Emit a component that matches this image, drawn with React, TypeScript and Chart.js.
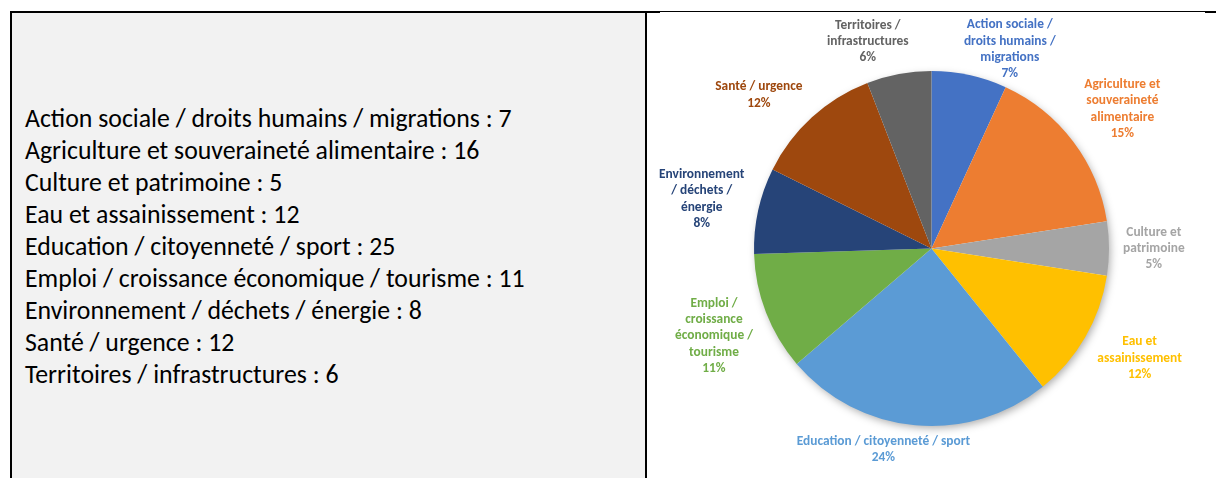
import React, { useEffect, useRef } from "react";
import { Chart, registerables } from "chart.js";

Chart.register(...registerables);

const categories = [
  "Action sociale / droits humains / migrations",
  "Agriculture et souveraineté alimentaire",
  "Culture et patrimoine",
  "Eau et assainissement",
  "Education / citoyenneté / sport",
  "Emploi / croissance économique / tourisme",
  "Environnement / déchets / énergie",
  "Santé / urgence",
  "Territoires / infrastructures",
];

const counts = [7, 16, 5, 12, 25, 11, 8, 12, 6];

const pieLabelLines = [
  ["Action sociale /", "droits humains /", "migrations"],
  ["Agriculture et", "souveraineté", "alimentaire"],
  ["Culture et", "patrimoine"],
  ["Eau et", "assainissement"],
  ["Education / citoyenneté / sport"],
  ["Emploi /", "croissance", "économique /", "tourisme"],
  ["Environnement", "/ déchets /", "énergie"],
  ["Santé / urgence"],
  ["Territoires /", "infrastructures"],
];

const percentLabels = ["7%", "15%", "5%", "12%", "24%", "11%", "8%", "12%", "6%"];

const sliceColors = [
  "#4472C4",
  "#ED7D31",
  "#A5A5A5",
  "#FFC000",
  "#5B9BD5",
  "#70AD47",
  "#264478",
  "#9E480E",
  "#636363",
];

const LABEL_FONT = "bold 13.4px Carlito, Calibri, Lato, sans-serif";
const LINE_H = 16.3;

const shadowPlugin = {
  id: "pieShadow",
  beforeDatasetsDraw(chart: any) {
    const meta = chart.getDatasetMeta(0);
    const arc = meta.data[0];
    if (!arc) return;
    const { x, y, outerRadius } = arc.getProps(["x", "y", "outerRadius"], true);
    const ctx = chart.ctx;
    ctx.save();
    ctx.shadowColor = "rgba(0,0,0,0.35)";
    ctx.shadowBlur = 9;
    ctx.shadowOffsetX = 2;
    ctx.shadowOffsetY = 3;
    ctx.fillStyle = "#ffffff";
    ctx.beginPath();
    ctx.arc(x, y, outerRadius - 1, 0, Math.PI * 2);
    ctx.fill();
    ctx.restore();
  },
};

const clamp = (v: number, a: number, b: number) => Math.max(a, Math.min(b, v));

const labelPlugin = {
  id: "outsideLabels",
  afterDatasetsDraw(chart: any) {
    const meta = chart.getDatasetMeta(0);
    const ctx = chart.ctx;
    ctx.save();
    ctx.font = LABEL_FONT;
    ctx.textAlign = "center";
    ctx.textBaseline = "middle";
    meta.data.forEach((arc: any, i: number) => {
      const { x, y, startAngle, endAngle, outerRadius } = arc.getProps(
        ["x", "y", "startAngle", "endAngle", "outerRadius"],
        true
      );
      const mid = (startAngle + endAngle) / 2;
      const ux = Math.cos(mid);
      const uy = Math.sin(mid);
      const ax = x + ux * outerRadius;
      const ay = y + uy * outerRadius;
      const lines = [...pieLabelLines[i], percentLabels[i]];
      let w = 0;
      lines.forEach((l) => {
        w = Math.max(w, ctx.measureText(l).width);
      });
      const h = lines.length * LINE_H;
      let cx = ax + clamp(1.9 * ux, -0.5, 0.5) * w + 14 * ux;
      let cy = ay + clamp(0.7 * uy, -0.5, 0.5) * h + 8 * uy;
      // keep labels inside the chart area
      cy = clamp(cy, h / 2 + 4, chart.height - h / 2 - 4);
      cx = clamp(cx, w / 2 + 4, chart.width - w / 2 - 4);
      ctx.fillStyle = sliceColors[i];
      lines.forEach((l, k) => {
        ctx.fillText(l, cx, cy - h / 2 + LINE_H / 2 + k * LINE_H);
      });
    });
    ctx.restore();
  },
};

function PieChart() {
  const ref = useRef<HTMLCanvasElement | null>(null);
  useEffect(() => {
    if (!ref.current) return;
    const chart = new Chart(ref.current, {
      type: "pie",
      data: {
        labels: categories,
        datasets: [
          {
            data: counts,
            backgroundColor: sliceColors,
            borderWidth: 0,
          },
        ],
      },
      options: {
        responsive: false,
        animation: false,
        layout: { padding: { top: 58, bottom: 52, left: 0, right: 0 } },
        plugins: {
          legend: { display: false },
          tooltip: { enabled: false },
          title: { display: false },
        },
      },
      plugins: [shadowPlugin, labelPlugin],
    });
    return () => chart.destroy();
  }, []);
  return <canvas ref={ref} width={569} height={465} style={{ display: "block" }} />;
}

export default function App() {
  return (
    <div
      style={{
        position: "fixed",
        left: 0,
        top: 0,
        width: 1216,
        height: 478,
        background: "#ffffff",
        overflow: "hidden",
      }}
    >
      <div style={{ position: "absolute", left: 12, top: 13, width: 633, height: 465, background: "#f2f2f2" }} />
      <div style={{ position: "absolute", left: 10, top: 11, width: 650, height: 2, background: "#000" }} />
      <div style={{ position: "absolute", left: 660, top: 11, width: 545, height: 1, background: "#000" }} />
      <div style={{ position: "absolute", left: 1205, top: 11, width: 11, height: 2, background: "#000" }} />
      <div style={{ position: "absolute", left: 10, top: 11, width: 2, height: 467, background: "#000" }} />
      <div style={{ position: "absolute", left: 645, top: 11, width: 2, height: 467, background: "#000" }} />
      <div
        style={{
          position: "absolute",
          left: 25,
          top: 102,
          fontFamily: "Carlito, Calibri, Lato, sans-serif",
          fontSize: 25.8,
          lineHeight: "32px",
          color: "#000",
          whiteSpace: "nowrap",
        }}
      >
        {categories.map((c, i) => (
          <div key={c}>
            {c} : {counts[i]}
          </div>
        ))}
      </div>
      <div style={{ position: "absolute", left: 647, top: 13, width: 569, height: 465 }}>
        <PieChart />
      </div>
    </div>
  );
}
